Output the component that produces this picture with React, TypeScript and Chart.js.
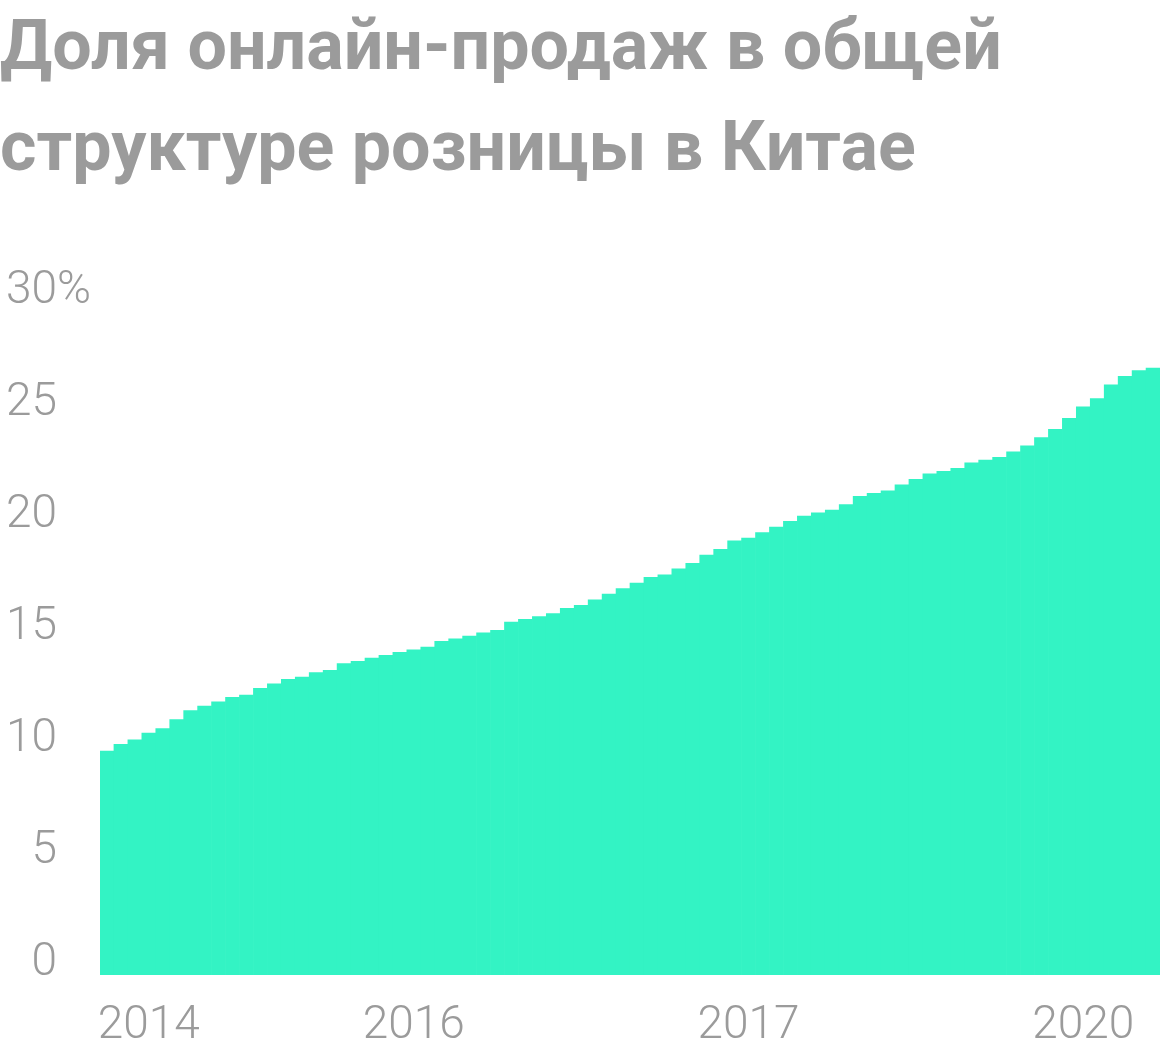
import React, { useEffect, useRef } from "react";
import { Chart, registerables } from "chart.js";

Chart.register(...registerables);

// Share of online sales in China's total retail (%), one bar per period
const values: number[] = [
  10.0, 10.3, 10.5, 10.8, 11.0, 11.4, 11.8, 12.0, 12.2, 12.4,
  12.5, 12.8, 13.0, 13.2, 13.3, 13.5, 13.6, 13.9, 14.0, 14.15,
  14.27, 14.41, 14.52, 14.64, 14.9, 15.01, 15.13, 15.27, 15.39, 15.76,
  15.88, 16.0, 16.13, 16.37, 16.5, 16.75, 17.01, 17.25, 17.5, 17.75,
  17.87, 18.13, 18.38, 18.75, 19.0, 19.38, 19.51, 19.75, 20.0, 20.25,
  20.49, 20.63, 20.75, 21.0, 21.37, 21.5, 21.62, 21.88, 22.13, 22.37,
  22.49, 22.62, 22.86, 22.99, 23.11, 23.36, 23.62, 23.99, 24.36, 24.85,
  25.36, 25.73, 26.35, 26.73, 26.98, 27.1,
];

const categories: string[] = values.map((_, i) => String(i));

const yearTickIndices: number[] = [3, 22, 46, 70];
const yearTickLabels: string[] = ["2014", "2016", "2017", "2020"];

const yTickValues: number[] = [0, 5, 10, 15, 20, 25, 30];

const titleLines: string[] = ["Доля онлайн-продаж в общей", "структуре розницы в Китае"];

const GREY = "#9b9b9b";
const BAR = "#33f3c4";

const yLabelsPlugin = {
  id: "yLabels",
  afterDraw(chart: any) {
    const ctx = chart.ctx;
    const y = chart.scales.y;
    ctx.save();
    ctx.font = "300 46px Roboto";
    ctx.fillStyle = GREY;
    ctx.textBaseline = "alphabetic";
    ctx.textAlign = "left";
    const rightEdge = 57;
    yTickValues.forEach((v) => {
      const py = y.getPixelForValue(v);
      const num = String(v);
      const w = ctx.measureText(num).width;
      const txt = v === yTickValues[yTickValues.length - 1] ? num + "%" : num;
      ctx.fillText(txt, rightEdge - w, py);
    });
    ctx.restore();
  },
};

export default function App() {
  const ref = useRef<HTMLCanvasElement | null>(null);

  useEffect(() => {
    if (!ref.current) return;
    const chart = new Chart(ref.current, {
      type: "bar",
      data: {
        labels: categories,
        datasets: [
          {
            data: values,
            backgroundColor: BAR,
            borderWidth: 0,
            barPercentage: 1,
            categoryPercentage: 1,
          },
        ],
      },
      options: {
        animation: false,
        responsive: false,
        maintainAspectRatio: false,
        devicePixelRatio: 1,
        layout: { padding: { left: 0, right: 0, top: 0, bottom: -22 } },
        plugins: {
          legend: { display: false },
          tooltip: { enabled: false },
          title: {
            display: true,
            text: titleLines,
            align: "start",
            color: GREY,
            font: { family: "Roboto", weight: "bold", size: 70, lineHeight: 101 / 70 },
            padding: { top: 0.5, bottom: 100.5 },
          },
        },
        scales: {
          x: {
            grid: { display: false, drawTicks: false },
            border: { display: false },
            ticks: {
              autoSkip: false,
              maxRotation: 0,
              minRotation: 0,
              padding: 0,
              color: GREY,
              font: { family: "Roboto", size: 46, weight: "300", lineHeight: 103 / 46 },
              callback: (_v: any, i: number) => {
                const k = yearTickIndices.indexOf(i);
                return k >= 0 ? yearTickLabels[k] : "";
              },
            },
          },
          y: {
            min: 0,
            max: 30,
            grid: { display: false, drawTicks: false },
            border: { display: false },
            ticks: { display: false, stepSize: 5 },
            afterFit: (scale: any) => {
              scale.width = 100;
            },
          },
        },
      },
      plugins: [yLabelsPlugin],
    });
    return () => chart.destroy();
  }, []);

  return (
    <div style={{ position: "absolute", left: 0, top: 0, width: 1160, height: 1056 }}>
      <canvas ref={ref} width={1160} height={1056} style={{ display: "block" }} />
    </div>
  );
}
